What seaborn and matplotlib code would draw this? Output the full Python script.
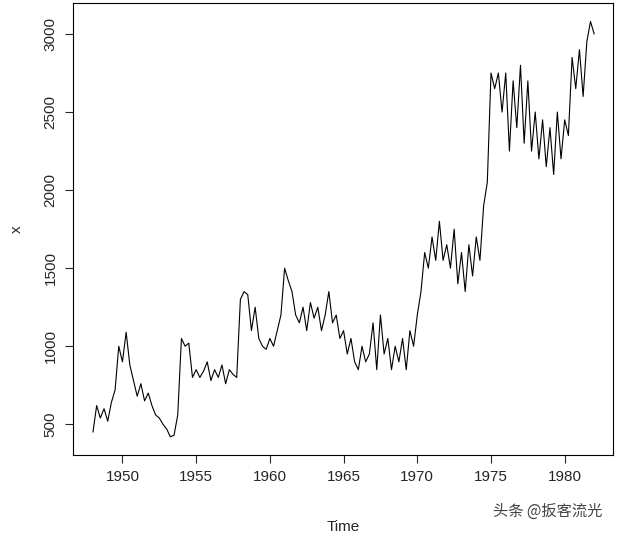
import numpy as np
import pandas as pd
import matplotlib
matplotlib.use("Agg")
import matplotlib.pyplot as plt
import seaborn as sns

start_year = 1948
values = [
 450, 620, 540, 600,  520, 640, 720, 1000,  900, 1090, 880, 780,
 680, 760, 650, 700,  620, 560, 540, 500,  470, 420, 430, 560,
 1050, 1000, 1020, 800,  850, 800, 840, 900,  780, 850, 800, 880,
 760, 850, 820, 800,  1300, 1350, 1330, 1100,  1250, 1050, 1000, 980,
 1050, 1000, 1100, 1200,  1500, 1420, 1350, 1200,  1150, 1250, 1100, 1280,
 1180, 1250, 1100, 1200,  1350, 1150, 1200, 1050,  1100, 950, 1050, 900,
 850, 1000, 900, 950,  1150, 850, 1200, 950,  1050, 850, 1000, 900,
 1050, 850, 1100, 1000,  1200, 1350, 1600, 1500,  1700, 1550, 1800, 1550,
 1650, 1500, 1750, 1400,  1600, 1350, 1650, 1450,  1700, 1550, 1900, 2050,
 2750, 2650, 2750, 2500,  2750, 2250, 2700, 2400,  2800, 2300, 2700, 2250,
 2500, 2200, 2450, 2150,  2400, 2100, 2500, 2200,  2450, 2350, 2850, 2650,
 2900, 2600, 2950, 3080, 3000,
]
times = start_year + np.arange(len(values)) / 4.0
df = pd.DataFrame({"Time": times, "x": values})

sns.set_style("white")
plt.rcParams['font.family'] = ['Liberation Sans', 'Noto Sans CJK SC']
fig = plt.figure(figsize=(6.18, 5.36), dpi=100)
ax = fig.add_axes([0.118, 0.151, 0.874, 0.843])
sns.lineplot(data=df, x="Time", y="x", color="black", linewidth=0.8, ax=ax)
ax.set_xlim(1946.64, 1983.28)
ax.set_ylim(303, 3197)
ax.set_xticks([1950, 1955, 1960, 1965, 1970, 1975, 1980])
ax.set_yticks([500, 1000, 1500, 2000, 2500, 3000])
for lab in ax.get_yticklabels():
    lab.set_rotation(90)
    lab.set_va("center")
ax.tick_params(direction="out", length=6, labelsize=11, bottom=True, left=True, pad=5)
for s in ax.spines.values():
    s.set_color("black"); s.set_linewidth(0.8)
ax.set_xlabel("Time", fontsize=11, labelpad=26)
ax.set_ylabel("x", fontsize=11, labelpad=14)
fig.text(0.975, 0.03, "头条 @扳客流光", ha="right", va="bottom", fontsize=11,
         color="#444444", family=['Noto Sans CJK SC', 'DejaVu Sans'])
fig.savefig("out.png", dpi=100)
